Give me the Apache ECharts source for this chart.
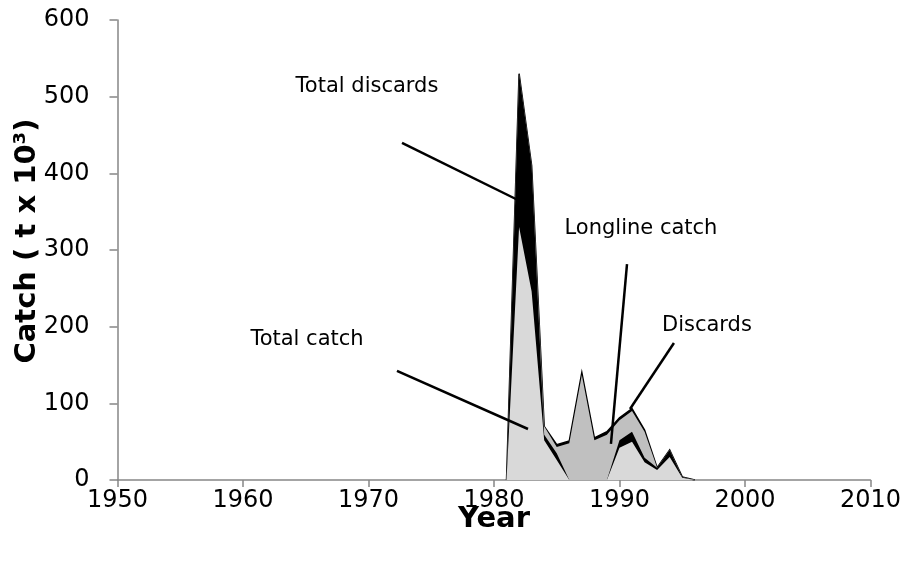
<!DOCTYPE html>
<html>
<head>
<meta charset="utf-8">
<script src="https://cdn.jsdelivr.net/npm/echarts@6/dist/echarts.min.js"></script>
<style>
html,body{margin:0;padding:0;background:#fff;}
#c{width:904px;height:561px;}
</style>
</head>
<body>
<div id="c"></div>
<script>
// Years with non-zero catch
var years = [1981,1982,1983,1984,1985,1986,1987,1988,1989,1990,1991,1992,1993,1994,1995,1996];
// Layers, stacked bottom to top (t x 10^3)
var totalCatch    = [0,330,246,52,26,0,0,0,0,42,50,23,13,30,3,0];
var totalDiscards = [0,200,164,7,9,0,0,0,0,10,13,6,3,9,1,0];
var longlineCatch = [0,0,0,11,8,48,137,52,59,26,27,34,0,0,0,0];
var discards      = [0,0,0,0,3,3,3,3,4,3,3,2,0,0,0,0];

var xTicks = [1950,1960,1970,1980,1990,2000,2010];
var yTicks = [0,100,200,300,400,500,600];

// Annotations: label anchor and leader line in data units [year, value]
var annLabels = ['Total discards','Total catch','Longline catch','Discards'];
var annText   = [[1969.88,512.6],[1965.1,182.6],[1991.71,327.4],[1996.97,200.9]];
var annFrom   = [[1972.67,439.6],[1972.27,142.2],[1990.6,281.7],[1994.34,178.7]];
var annTo     = [[1982.55,360],[1982.71,66.5],[1989.32,47],[1990.84,92.6]];

var layers = [
  {name:'Total catch', vals: totalCatch, color:'#d9d9d9', line:0},
  {name:'Total discards', vals: totalDiscards, color:'#000000', line:0},
  {name:'Longline catch', vals: longlineCatch, color:'#c0c0c0', line:0},
  {name:'Discards', vals: discards, color:'#000000', line:1.5}
];

// cumulative tops (stacking done here, drawn as overlapping areas from 0)
var cum = years.map(function(){return 0;});
var series = [];
layers.forEach(function(L, li){
  cum = cum.map(function(c,i){ return c + L.vals[i]; });
  var d = years.map(function(y,i){ return [y, cum[i]]; });
  series.push({
    name: L.name, type:'line', data: d, symbol:'none', silent:true,
    z: 10 - li,
    lineStyle:{width:L.line, color:'#000000', join:'miter'},
    areaStyle:{color:L.color, opacity:1, origin:'start'},
    itemStyle:{color:L.color}
  });
});
series.reverse();

var chart = echarts.init(document.getElementById('c'), null, {renderer:'canvas'});
var axisColor = '#868686';
var font = 'DejaVu Sans';
var fmt = function(v){ return String(v); };

var option = {
  animation: false,
  backgroundColor: '#ffffff',
  grid: {left: 117.5, right: 33.5, top: 20, bottom: 81, containLabel: false},
  xAxis: {
    type: 'value', min: xTicks[0], max: xTicks[xTicks.length-1], interval: 10,
    axisLine: {show: true, onZero:false, lineStyle: {color: axisColor, width: 1.5}},
    axisTick: {show: true, length: 7, lineStyle: {color: axisColor, width: 1.5}},
    axisLabel: {color: '#000', fontFamily: font, fontSize: 24, margin: 9, formatter: fmt},
    splitLine: {show: false}
  },
  yAxis: {
    type: 'value', min: yTicks[0], max: yTicks[yTicks.length-1], interval: 100,
    axisLine: {show: true, lineStyle: {color: axisColor, width: 1.5}},
    axisTick: {show: true, length: 8, lineStyle: {color: axisColor, width: 1.5}},
    axisLabel: {color: '#000', fontFamily: font, fontSize: 24, margin: 28, formatter: fmt},
    splitLine: {show: false}
  },
  series: series
};
chart.setOption(option);

var g = [];
g.push({type:'text', x: 494, y: 519, z:100, style:{text:'Year', font:'bold 29px "DejaVu Sans"', fill:'#000', textAlign:'center', textVerticalAlign:'middle'}});
g.push({type:'text', rotation: Math.PI/2, x: 27, y: 241, z:100, style:{text:'Catch ( t x 10³)', font:'bold 29px "DejaVu Sans"', fill:'#000', textAlign:'center', textVerticalAlign:'middle'}});
for (var i=0;i<annLabels.length;i++){
  var tp = chart.convertToPixel({gridIndex:0}, annText[i]);
  var a = chart.convertToPixel({gridIndex:0}, annFrom[i]);
  var b = chart.convertToPixel({gridIndex:0}, annTo[i]);
  g.push({type:'text', x: tp[0], y: tp[1], z: 100, style:{text: annLabels[i], font:'21px "DejaVu Sans"', fill:'#000', textAlign:'center', textVerticalAlign:'middle'}});
  g.push({type:'line', z: 100, shape:{x1:a[0], y1:a[1], x2:b[0], y2:b[1]}, style:{stroke:'#000', lineWidth:2.5}});
}
chart.setOption({graphic: g});
</script>
</body>
</html>
